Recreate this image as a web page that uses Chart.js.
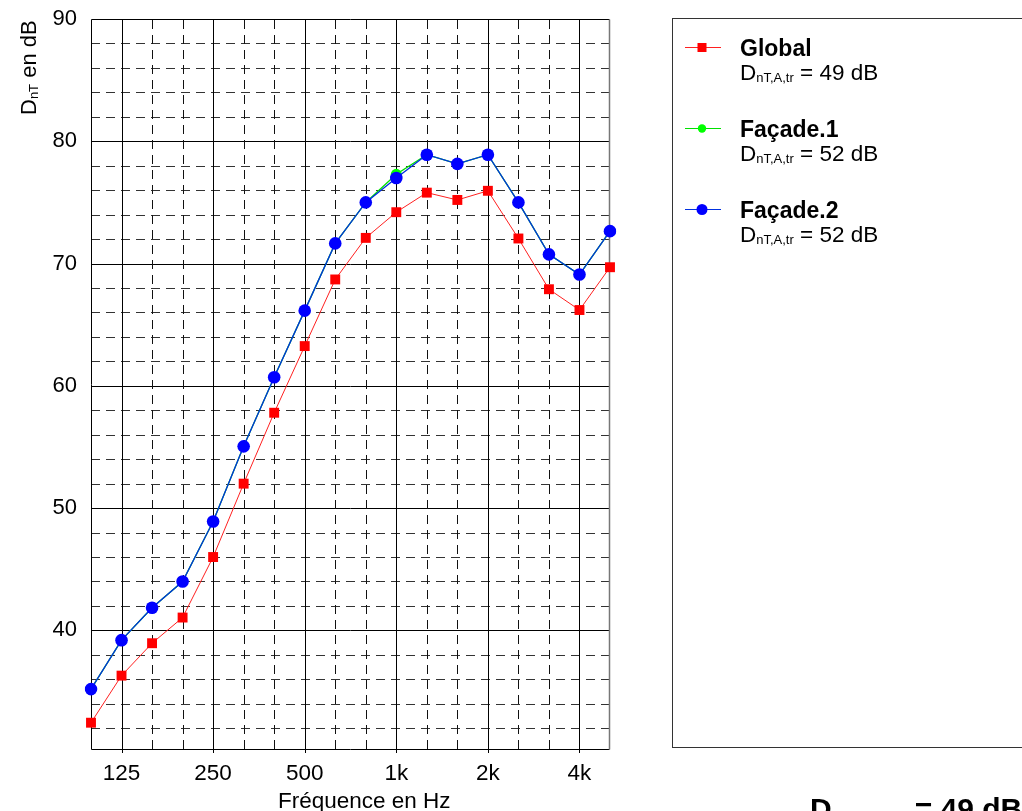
<!DOCTYPE html>
<html>
<head>
<meta charset="utf-8">
<script src="https://cdn.jsdelivr.net/npm/chart.js@4/dist/chart.umd.min.js"></script>
<style>
  html, body { margin: 0; padding: 0; background: #fff; }
  canvas { display: block; }
</style>
</head>
<body>
<canvas id="myChart" width="1022" height="811"></canvas>
<script>
// third-octave bands, 100 Hz .. 5 kHz
const freqs = ['100', '125', '160', '200', '250', '315', '400', '500', '630', '800', '1k', '1.25k', '1.6k', '2k', '2.5k', '3.15k', '4k', '5k'];
const octaveLabels = ['125', '250', '500', '1k', '2k', '4k'];

const seriesNames = ['Global', 'Façade.1', 'Façade.2'];
const dnTAtr = [49, 52, 52];

const globalDb  = [32.45, 36.3, 38.95, 41.05, 46.0, 52.0, 57.8, 63.25, 68.7, 72.1, 74.2, 75.8, 75.2, 75.95, 72.05, 67.9, 66.2, 69.7];
const facade1Db = [35.2, 39.2, 41.85, 44.0, 48.9, 55.05, 60.7, 66.15, 71.65, 75.0, 77.3, 78.9, 78.15, 78.9, 75.0, 70.75, 69.1, 72.65];
const facade2Db = [35.2, 39.2, 41.85, 44.0, 48.9, 55.05, 60.7, 66.15, 71.65, 75.0, 77.0, 78.9, 78.15, 78.9, 75.0, 70.75, 69.1, 72.65];

const yMin = 30.3, yMax = 90;
const resultDb = 49;

const FONT = '"Liberation Sans", Arial, sans-serif';
Chart.defaults.font.family = FONT;
Chart.defaults.font.size = 22;
Chart.defaults.color = '#000';

// grid, legend box and the texts with subscripts
const deco = {
    id: 'deco',
    beforeDatasetsDraw(chart) {
        const { ctx, chartArea: a, scales: { x, y } } = chart;
        ctx.save();
        ctx.lineWidth = 1;
        // horizontal lines every 2 dB
        for (let v = 32; v < yMax; v += 2) {
            const py = Math.round(y.getPixelForValue(v)) + 0.5;
            ctx.beginPath();
            if (v % 10 === 0) {
                ctx.setLineDash([]);
                ctx.strokeStyle = '#000';
            } else {
                ctx.setLineDash([9, 6]);
                ctx.strokeStyle = '#333';
            }
            ctx.moveTo(a.left, py);
            ctx.lineTo(a.right, py);
            ctx.stroke();
        }
        // vertical lines at each band
        freqs.forEach((f, i) => {
            if (i === 0 || i === freqs.length - 1) return;
            const px = Math.round(x.getPixelForValue(i)) + 0.5;
            ctx.beginPath();
            if (octaveLabels.includes(f)) {
                ctx.setLineDash([]);
                ctx.strokeStyle = '#000';
                ctx.moveTo(px, a.top);
                ctx.lineTo(px, a.bottom + 4);
            } else {
                ctx.setLineDash([9, 6]);
                ctx.strokeStyle = '#111';
                ctx.moveTo(px, a.bottom);
                ctx.lineTo(px, a.top);
            }
            ctx.stroke();
        });
        // frame
        ctx.setLineDash([]);
        ctx.strokeStyle = '#000';
        const l = Math.round(a.left) + 0.5, r = Math.round(a.right) - 0.5;
        const t = Math.round(a.top) + 0.5, b = Math.round(a.bottom) + 0.5;
        ctx.beginPath();
        ctx.moveTo(r, t); ctx.lineTo(l, t); ctx.lineTo(l, b); ctx.lineTo(r, b);
        ctx.stroke();
        ctx.strokeStyle = '#777';
        ctx.lineWidth = 1.5;
        ctx.beginPath();
        ctx.moveTo(r, t); ctx.lineTo(r, b);
        ctx.stroke();
        ctx.restore();
    },
    afterDraw(chart) {
        const { ctx } = chart;
        ctx.save();
        ctx.fillStyle = '#000';
        ctx.textBaseline = 'alphabetic';
        ctx.textAlign = 'left';

        // D + subscript + rest, returns end x
        const subText = (x0, yb, main, sub, rest, size, subSize, weight, subDrop) => {
            ctx.font = weight + ' ' + size + 'px ' + FONT;
            ctx.fillText(main, x0, yb);
            let xx = x0 + ctx.measureText(main).width;
            ctx.font = weight + ' ' + subSize + 'px ' + FONT;
            ctx.fillText(sub, xx, yb + subDrop);
            xx += ctx.measureText(sub).width;
            ctx.font = weight + ' ' + size + 'px ' + FONT;
            ctx.fillText(rest, xx, yb);
            return xx + ctx.measureText(rest).width;
        };

        // y axis title, rotated
        ctx.save();
        ctx.translate(36, 115);
        ctx.rotate(-Math.PI / 2);
        subText(0, 0, 'D', 'nT', ' en dB', 22, 13, 'normal', 2);
        ctx.restore();

        // x axis title
        ctx.font = '22.5px ' + FONT;
        ctx.fillText('Fréquence en Hz', 278, 808);

        // legend box
        ctx.strokeStyle = '#333';
        ctx.lineWidth = 1;
        ctx.strokeRect(672.5, 18.5, 420, 729);

        const ds = chart.data.datasets;
        const rowY = [47, 128, 209];
        seriesNames.forEach((name, i) => {
            const d = ds[i];
            const ly = rowY[i];
            ctx.strokeStyle = d.borderColor;
            ctx.lineWidth = 1.2;
            ctx.beginPath();
            ctx.moveTo(685, ly + 0.5);
            ctx.lineTo(721, ly + 0.5);
            ctx.stroke();
            ctx.fillStyle = d.pointBackgroundColor;
            if (d.pointStyle === 'rect') {
                ctx.fillRect(702 - 4.5, ly - 4.5 + 0.5, 9, 9);
            } else {
                ctx.beginPath();
                ctx.arc(702, ly + 0.5, i === 1 ? 4.2 : 5.5, 0, Math.PI * 2);
                ctx.fill();
            }
            ctx.fillStyle = '#000';
            ctx.font = 'bold 23px ' + FONT;
            ctx.fillText(name, 740, ly + 9);
            subText(740, ly + 33, 'D', 'nT,A,tr', ' = ' + dnTAtr[i] + ' dB', 22.5, 13, 'normal', 2);
        });

        // big result, cut by the bottom edge
        ctx.fillStyle = '#000';
        subText(810, 819, 'D', 'nT,A,tr', ' = ' + resultDb + ' dB', 30, 24, 'bold', 12);
        ctx.restore();
    }
};

const ctx = document.getElementById('myChart').getContext('2d');

const myChart = new Chart(ctx, {
    type: 'line',
    data: {
        labels: freqs,
        datasets: [{
            label: seriesNames[0],
            data: globalDb,
            borderColor: '#ff2020',
            borderWidth: 1,
            pointStyle: 'rect',
            pointRadius: 7,
            pointBorderWidth: 0,
            pointBackgroundColor: '#ff0000',
            tension: 0,
            order: 3
        }, {
            label: seriesNames[1],
            data: facade1Db,
            borderColor: '#00e000',
            borderWidth: 1.3,
            pointStyle: 'circle',
            pointRadius: 5.5,
            pointBorderWidth: 0,
            pointBackgroundColor: '#00ff00',
            tension: 0,
            order: 2
        }, {
            label: seriesNames[2],
            data: facade2Db,
            borderColor: '#0030e0',
            borderWidth: 1.3,
            pointStyle: 'circle',
            pointRadius: 6.3,
            pointBorderWidth: 0,
            pointBackgroundColor: '#0000ff',
            tension: 0,
            order: 1
        }]
    },
    options: {
        responsive: false,
        animation: false,
        layout: { padding: { left: 0, top: 19, right: 412, bottom: 0 } },
        scales: {
            x: {
                type: 'category',
                offset: false,
                grid: { display: false, drawTicks: false },
                border: { display: false },
                ticks: {
                    autoSkip: false,
                    maxRotation: 0,
                    padding: 11,
                    font: { size: 22.5 },
                    callback: function (value) {
                        const lab = freqs[value];
                        return octaveLabels.includes(lab) ? lab : '';
                    }
                },
                afterFit: (s) => { s.height = 62; s.paddingLeft = 0; s.paddingRight = 0; }
            },
            y: {
                min: yMin,
                max: yMax,
                grid: { display: false, drawTicks: false },
                border: { display: false },
                ticks: {
                    stepSize: 10,
                    padding: 14,
                    callback: (v) => (v % 10 === 0 ? String(v) : '')
                },
                afterFit: (s) => { s.width = 91; s.paddingTop = 0; s.paddingBottom = 0; }
            }
        },
        plugins: {
            legend: { display: false },
            tooltip: { enabled: false }
        }
    },
    plugins: [deco]
});
</script>
</body>
</html>
